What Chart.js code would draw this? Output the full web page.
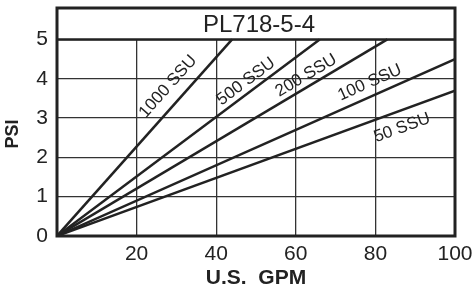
<!DOCTYPE html>
<html>
<head>
<meta charset="utf-8">
<script src="https://cdn.jsdelivr.net/npm/chart.js@4"></script>
<style>
  html, body { margin: 0; padding: 0; background: #fff; }
</style>
</head>
<body>
<canvas id="psiChart" width="475" height="289"></canvas>
<script>
// data
const chartTitle = 'PL718-5-4';
const seriesNames = ['1000 SSU', '500 SSU', '200 SSU', '100 SSU', '50 SSU'];
const startGpm = [0, 0, 0, 0, 0];
const startPsi = [0, 0, 0, 0, 0];
const endGpm = [44, 66, 83, 100, 100];
const endPsi = [5, 5, 5, 4.5, 3.7];
const gpmTicks = [20, 40, 60, 80, 100];
const psiTicks = [0, 1, 2, 3, 4, 5];

// where each curve label sits (gpm, psi)
const labelGpm = [27.9, 47.5, 62.6, 78.6, 86.7];
const labelPsi = [3.8, 3.93, 4.08, 3.9, 2.75];

const ink = '#222';
const FONT = '"Liberation Sans", Arial, sans-serif';

//=======================================================================================
// title band, frame, curve labels ======================================================
//=======================================================================================
const framePlugin = {
    id: 'frame',
    beforeDatasetsDraw(chart) {
        let ctx = chart.ctx, a = chart.chartArea;
        let y5 = chart.scales.y.getPixelForValue(5);
        ctx.save();
        ctx.fillStyle = '#fff';
        ctx.fillRect(a.left, a.top, a.right - a.left, y5 - a.top);
        ctx.fillStyle = ink;
        ctx.font = '24px ' + FONT;
        ctx.textAlign = 'center';
        ctx.textBaseline = 'middle';
        ctx.fillText(chartTitle, (a.left + a.right) / 2 + 3, (a.top + y5) / 2 + 2);
        ctx.restore();
    },
    afterDatasetsDraw(chart) {
        let ctx = chart.ctx, xs = chart.scales.x, ys = chart.scales.y;
        ctx.save();
        ctx.fillStyle = ink;
        ctx.font = '17px ' + FONT;
        ctx.textAlign = 'center';
        ctx.textBaseline = 'middle';
        seriesNames.forEach((name, i) => {
            let dx = xs.getPixelForValue(endGpm[i]) - xs.getPixelForValue(startGpm[i]);
            let dy = ys.getPixelForValue(endPsi[i]) - ys.getPixelForValue(startPsi[i]);
            ctx.save();
            ctx.translate(xs.getPixelForValue(labelGpm[i]), ys.getPixelForValue(labelPsi[i]));
            ctx.rotate(Math.atan2(dy, dx));
            ctx.fillText(name, 0, 0);
            ctx.restore();
        });
        ctx.restore();
    },
    afterDraw(chart) {
        let ctx = chart.ctx, a = chart.chartArea;
        let y5 = chart.scales.y.getPixelForValue(5);
        ctx.save();
        ctx.strokeStyle = ink;
        ctx.lineWidth = 2.5;
        ctx.beginPath();
        ctx.moveTo(a.left, y5);
        ctx.lineTo(a.right, y5);
        ctx.stroke();
        ctx.lineWidth = 3;
        ctx.strokeRect(a.left, a.top, a.right - a.left, a.bottom - a.top);
        // y axis title
        ctx.fillStyle = ink;
        ctx.font = 'bold 18px ' + FONT;
        ctx.textAlign = 'center';
        ctx.textBaseline = 'middle';
        ctx.translate(13, 134);
        ctx.rotate(-Math.PI / 2);
        ctx.fillText('PSI', 0, 0);
        ctx.restore();
    }
};

function showPsiChart() {
    let ctx = document.getElementById('psiChart');

    let datasets = seriesNames.map((name, i) => ({
        label: name,
        data: [{ x: startGpm[i], y: startPsi[i] }, { x: endGpm[i], y: endPsi[i] }],
        borderColor: ink,
        backgroundColor: ink,
        borderWidth: 2.5,
        pointRadius: 0,
        tension: 0,
    }));

    let config = {
        type: 'line',
        data: { datasets: datasets },
        options: {
            responsive: false,
            animation: false,
            devicePixelRatio: 1,
            layout: { padding: { top: 8, right: 20, left: 0, bottom: 0 } },
            plugins: {
                legend: { display: false },
                title: { display: false },
                tooltip: { enabled: false }
            },
            scales: {
                x: {
                    type: 'linear',
                    min: 0,
                    max: 100,
                    afterBuildTicks: (s) => { s.ticks = gpmTicks.map((v) => ({ value: v })); },
                    afterFit: (s) => { s.height = 53; s.paddingLeft = 0; s.paddingRight = 0; },
                    grid: { color: '#333', lineWidth: 1.3, drawTicks: false },
                    border: { display: false },
                    ticks: { padding: 6, color: ink, font: { family: FONT, size: 21 }, maxRotation: 0 },
                    title: {
                        display: true,
                        text: 'U.S.  GPM',
                        color: ink,
                        font: { family: FONT, size: 21, weight: 'bold', lineHeight: 1 },
                        padding: { top: 0, bottom: 0 }
                    }
                },
                y: {
                    min: 0,
                    max: 5.8,
                    afterBuildTicks: (s) => { s.ticks = psiTicks.map((v) => ({ value: v })); },
                    afterFit: (s) => { s.width = 57; s.paddingTop = 0; s.paddingBottom = 0; },
                    grid: { color: '#333', lineWidth: 1.3, drawTicks: false },
                    border: { display: false },
                    ticks: { padding: 9, color: ink, font: { family: FONT, size: 21 } }
                }
            }
        },
        plugins: [framePlugin]
    };

    new Chart(ctx, config);
}

showPsiChart();
</script>
</body>
</html>
